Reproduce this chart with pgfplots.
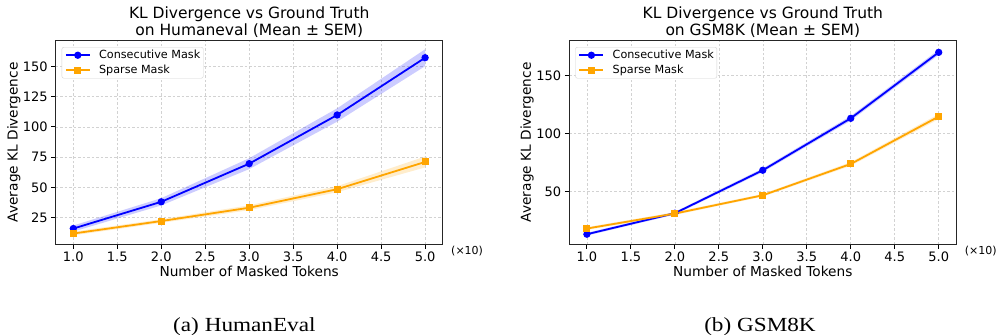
\documentclass[border=0pt]{standalone}
\usepackage{fontspec}
\setmainfont{DejaVu Sans}
\newfontfamily\capfont{Liberation Serif}
\usepackage{pgfplots}
\pgfplotsset{compat=1.18}
\usepackage{pgfplotstable}
\usepgfplotslibrary{fillbetween}

\definecolor{mblue}{RGB}{0,0,255}
\definecolor{morange}{RGB}{255,165,0}

\pgfplotstableread{
x c clo chi s slo shi
1 16.0 13.5 18.5 11.9 10.4 13.4
2 38.1 35.1 41.1 22.2 20.7 23.7
3 69.6 65.1 74.1 33.2 31.2 35.2
4 109.8 104.3 115.3 48.5 46.0 51.0
5 157.1 150.1 164.1 71.0 66.5 75.5
}\humaneval

\pgfplotstableread{
x c clo chi s slo shi
1 13.2 12.0 14.4 18.1 16.9 19.3
2 31.3 30.1 32.5 31.0 29.8 32.2
3 68.4 66.8 70.0 46.8 45.6 48.0
4 113.2 111.2 115.2 73.8 72.2 75.4
5 170.1 167.9 172.3 114.7 112.5 116.9
}\gsm

\pgfplotsset{
  kl/.style={
    scale only axis, width=387pt, height=204pt,
    clip=false,
    xmin=0.8, xmax=5.2,
    xtick={1,1.5,2,2.5,3,3.5,4,4.5,5},
    x tick label style={/pgf/number format/.cd, fixed, fixed zerofill, precision=1, /tikz/.cd},
    /pgf/number format/assume math mode=true,
    tick align=outside, tick pos=left,
    major tick length=4.5pt,
    tick style={black, line width=0.9pt},
    axis line style={black!85, line width=1.1pt},
    grid=major,
    major grid style={gray!35, line width=0.6pt, dash pattern=on 2.5pt off 2pt},
    ticklabel style={font=\fontsize{13}{15}\selectfont},
    label style={font=\fontsize{13.7}{16}\selectfont},
    xlabel={Number of Masked Tokens},
    ylabel={Average KL Divergence},
    xlabel style={at={(axis description cs:0.5,-0.160)}, anchor=base},
    title style={align=center, font=\fontsize{15.5}{17}\selectfont, at={(axis description cs:0.5,1)}, anchor=south, inner sep=0pt, yshift=-3pt},
    legend cell align=left,
    legend style={font=\fontsize{11.2}{13}\selectfont, at={(axis description cs:0.0155,0.967)}, anchor=north west,
      draw=gray!35, rounded corners=2pt, fill=white, inner xsep=3pt, inner ysep=3pt,
      row sep=5pt, nodes={inner sep=0pt}},
    /tikz/every odd column/.append style={column sep=8.4pt},
    legend image code/.code={\draw[mark repeat=2, mark phase=2] plot coordinates {(0pt,0pt) (12pt,0pt) (24pt,0pt)};},
    cons/.style={color=mblue, line width=1.8pt, mark=*, mark size=2.7pt},
    spar/.style={color=morange, line width=1.8pt, mark=square*, mark size=2.6pt},
  }
}

\begin{document}
\begin{tikzpicture}

\begin{axis}[kl, at={(55.7pt,90.7pt)}, anchor=south west,
  ymin=3, ymax=171.5, ytick={25,50,75,100,125,150},
  ylabel style={at={(axis description cs:-0.108,0.5)}, anchor=center},
  title={KL Divergence vs Ground Truth\\ on Humaneval (Mean ± SEM)}]
  \addplot[name path=chi, draw=none, forget plot] table[x=x, y=chi] {\humaneval};
  \addplot[name path=clo, draw=none, forget plot] table[x=x, y=clo] {\humaneval};
  \addplot[mblue, fill opacity=0.2, draw=none, forget plot] fill between[of=chi and clo];
  \addplot[name path=shi, draw=none, forget plot] table[x=x, y=shi] {\humaneval};
  \addplot[name path=slo, draw=none, forget plot] table[x=x, y=slo] {\humaneval};
  \addplot[morange, fill opacity=0.2, draw=none, forget plot] fill between[of=shi and slo];
  \addplot[cons] table[x=x, y=c] {\humaneval};
  \addlegendentry{Consecutive Mask}
  \addplot[spar] table[x=x, y=s] {\humaneval};
  \addlegendentry{Sparse Mask}
  \node[anchor=west, inner sep=0pt, font=\fontsize{11}{13}\selectfont] at (rel axis cs:1.0215,-0.033) {(×10)};
\end{axis}

\begin{axis}[kl, at={(569.3pt,90.7pt)}, anchor=south west,
  ymin=4.5, ymax=180.5, ytick={50,100,150},
  ylabel style={at={(axis description cs:-0.109,0.5)}, anchor=center},
  title={KL Divergence vs Ground Truth\\on GSM8K (Mean ± SEM)}]
  \addplot[name path=chi, draw=none, forget plot] table[x=x, y=chi] {\gsm};
  \addplot[name path=clo, draw=none, forget plot] table[x=x, y=clo] {\gsm};
  \addplot[mblue, fill opacity=0.2, draw=none, forget plot] fill between[of=chi and clo];
  \addplot[name path=shi, draw=none, forget plot] table[x=x, y=shi] {\gsm};
  \addplot[name path=slo, draw=none, forget plot] table[x=x, y=slo] {\gsm};
  \addplot[morange, fill opacity=0.2, draw=none, forget plot] fill between[of=shi and slo];
  \addplot[cons] table[x=x, y=c] {\gsm};
  \addlegendentry{Consecutive Mask}
  \addplot[spar] table[x=x, y=s] {\gsm};
  \addlegendentry{Sparse Mask}
  \node[anchor=west, inner sep=0pt, font=\fontsize{11}{13}\selectfont] at (rel axis cs:1.0214,-0.033) {(×10)};
\end{axis}

\node[anchor=base, inner sep=0pt] at (244.4pt,3.3pt) {\capfont\fontsize{20}{22}\selectfont\scalebox{1.16}[1]{(a) HumanEval}};
\node[anchor=base, inner sep=0pt] at (760pt,3.3pt) {\capfont\fontsize{20}{22}\selectfont\scalebox{1.16}[1]{(b) GSM8K}};
\pgfresetboundingbox
\useasboundingbox (0pt,0pt) rectangle (997pt,335pt);
\end{tikzpicture}
\end{document}
